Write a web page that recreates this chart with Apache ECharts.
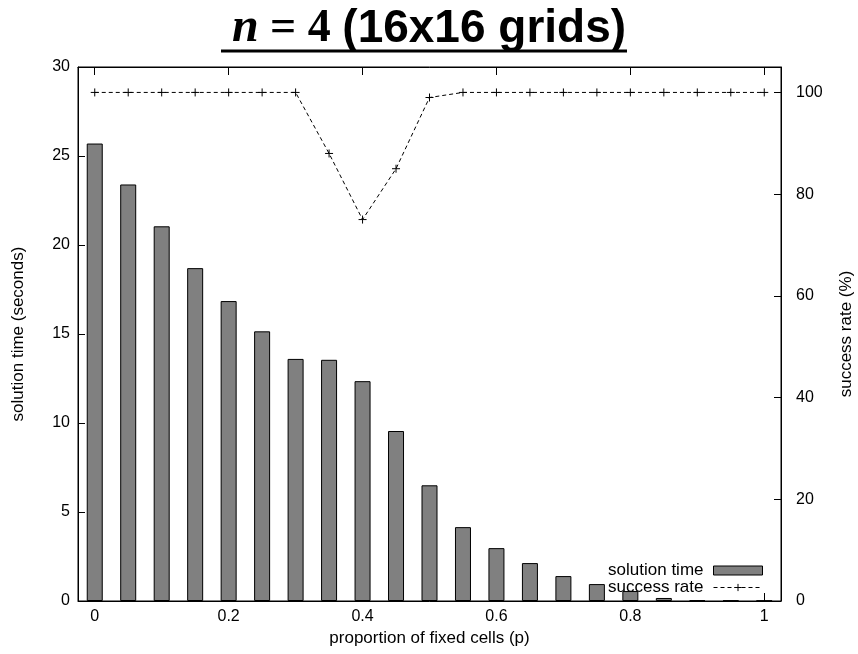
<!DOCTYPE html>
<html lang="en">
<head>
	<meta charset="UTF-8">
	<title>n = 4 (16x16 grids)</title>
	<style type="text/css">
		html, body{ margin:0; padding:0; background:#fff; }
		#chart{ width:858px; height:654px; }
	</style>
</head>
<body>
	<div id="chart"></div>
	<script type="text/javascript" src="https://cdn.jsdelivr.net/npm/echarts@6/dist/echarts.min.js"></script>
	<script type="text/javascript">
		// proportion of fixed cells
		var proportions = [0, 0.05, 0.1, 0.15, 0.2, 0.25, 0.3, 0.35, 0.4, 0.45, 0.5,
			0.55, 0.6, 0.65, 0.7, 0.75, 0.8, 0.85, 0.9, 0.95, 1];
		// solution time (seconds)
		var solutionTime = [25.7, 23.4, 21.05, 18.7, 16.85, 15.15, 13.6, 13.55, 12.35, 9.55, 6.5,
			4.15, 2.97, 2.13, 1.4, 0.95, 0.56, 0.17, 0.04, 0.03, 0.02];
		// success rate (%)
		var successRate = [100, 100, 100, 100, 100, 100, 100, 88, 75, 85, 99,
			100, 100, 100, 100, 100, 100, 100, 100, 100, 100];
		var xTicks = [0, 0.2, 0.4, 0.6, 0.8, 1];
		var y2Ticks = [0, 20, 40, 60, 80, 100];

		var myChart = echarts.init(document.getElementById('chart'));
		var sans = 'Liberation Sans, Arial, sans-serif';
		var serif = 'Liberation Serif, Times New Roman, serif';
		var black = '#000';

		var barData = [], lineData = [];
		proportions.forEach(function (p, i){
			barData.push([p, solutionTime[i]]);
			lineData.push([p, successRate[i]]);
		});

		var option = {
			animation: false,
			title: {
				left: 'center',
				top: 0,
				text: '{n|n}{eq| = 4 }{s|(16x16 grids)}',
				textStyle: {
					rich: {
						n: { fontFamily: serif, fontStyle: 'italic', fontWeight: 'bold', fontSize: 48, color: black },
						eq: { fontFamily: serif, fontWeight: 'bold', fontSize: 46, color: black },
						s: { fontFamily: sans, fontWeight: 'bold', fontSize: 46, color: black }
					}
				}
			},
			graphic: [{
				type: 'line',
				shape: { x1: 221, y1: 51, x2: 627, y2: 51 },
				style: { stroke: black, lineWidth: 3 }
			}],
			legend: {
				orient: 'vertical',
				right: 90,
				top: 557,
				align: 'right',
				itemWidth: 49,
				itemHeight: 9,
				itemGap: 0,
				itemStyle: { borderWidth: 1 },
				lineStyle: { width: 1 },
				textStyle: { fontFamily: sans, fontSize: 17, color: black, padding: [0, 5, 0, 0] },
				data: [
					{ name: 'solution time', icon: 'rect' },
					{ name: 'success rate' }
				]
			},
			grid: {
				left: 78, right: 77, top: 67, bottom: 53,
				containLabel: false,
				outerBoundsMode: 'none',
				show: true, borderColor: black, borderWidth: 1
			},
			xAxis: [{
				type: 'value',
				min: -0.025, max: 1.025,
				name: 'proportion of fixed cells (p)',
				nameLocation: 'middle',
				nameGap: 29,
				nameTextStyle: { fontFamily: sans, fontSize: 17, color: black },
				axisLine: { onZero: false, lineStyle: { color: black } },
				axisTick: { inside: true, length: 8, customValues: xTicks, lineStyle: { color: black } },
				axisLabel: { customValues: xTicks, margin: 8, fontFamily: sans, fontSize: 16, color: black },
				splitLine: { show: false }
			}, {
				type: 'value',
				position: 'top',
				min: -0.025, max: 1.025,
				axisLine: { onZero: false, lineStyle: { color: black } },
				axisTick: { inside: true, length: 8, customValues: xTicks, lineStyle: { color: black } },
				axisLabel: { show: false },
				splitLine: { show: false }
			}],
			yAxis: [{
				type: 'value',
				min: 0, max: 30, interval: 5,
				name: 'solution time (seconds)',
				nameLocation: 'middle',
				nameGap: 51,
				nameTextStyle: { fontFamily: sans, fontSize: 17, color: black },
				axisLine: { show: true, onZero: false, lineStyle: { color: black } },
				axisTick: { show: true, inside: true, length: 7, lineStyle: { color: black } },
				axisLabel: { margin: 8, fontFamily: sans, fontSize: 16, color: black },
				splitLine: { show: false }
			}, {
				type: 'value',
				min: 0, max: 105,
				position: 'right',
				name: 'success rate (%)',
				nameLocation: 'middle',
				nameGap: 57,
				nameRotate: 90,
				nameTextStyle: { fontFamily: sans, fontSize: 17, color: black },
				axisLine: { show: true, onZero: false, lineStyle: { color: black } },
				axisTick: { show: true, inside: true, length: 7, customValues: y2Ticks, lineStyle: { color: black } },
				axisLabel: { customValues: y2Ticks, margin: 15, fontFamily: sans, fontSize: 16, color: black },
				splitLine: { show: false }
			}],
			series: [{
				name: 'solution time',
				type: 'bar',
				xAxisIndex: 0,
				yAxisIndex: 0,
				barWidth: 16,
				itemStyle: { color: '#808080', borderColor: black, borderWidth: 1 },
				data: barData
			}, {
				name: 'success rate',
				type: 'line',
				xAxisIndex: 0,
				yAxisIndex: 1,
				symbol: 'path://M0,5L10,5M5,0L5,10',
				symbolSize: 8,
				itemStyle: { color: black, borderColor: black, borderWidth: 1 },
				lineStyle: { color: black, width: 1, type: [4, 3] },
				data: lineData
			}]
		};
		myChart.setOption(option);
	</script>
</body>
</html>
